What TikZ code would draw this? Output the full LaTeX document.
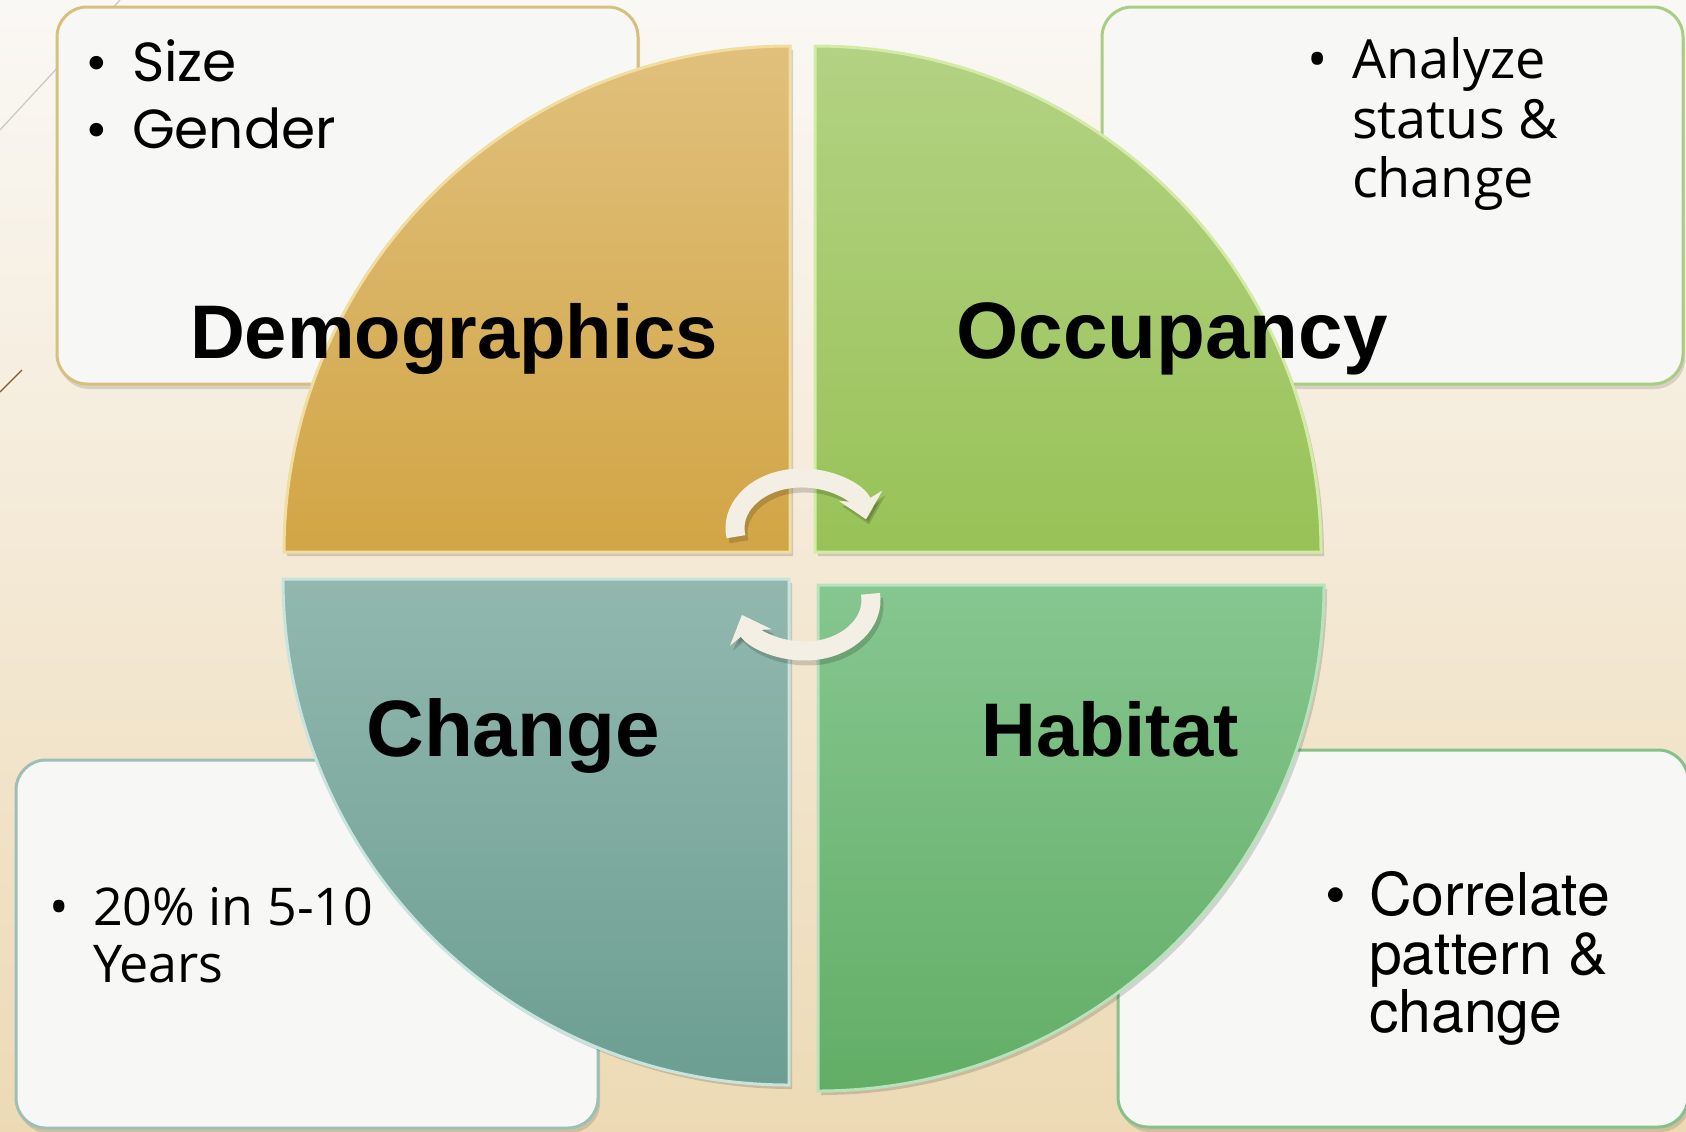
\documentclass[tikz,border=0pt]{standalone}
\usepackage{fontspec}
\setmainfont{Liberation Sans}
\newfontfamily\gothic{Poppins}
\newfontfamily\segoe{Open Sans}
\newfontfamily\helv{TeX Gyre Heros}
\usetikzlibrary{arrows.meta}
\definecolor{bgtop}{HTML}{FAF8F5}
\definecolor{bgbot}{HTML}{EDDAB5}
\definecolor{goldT}{HTML}{E0C07C}
\definecolor{goldB}{HTML}{D2A545}
\definecolor{goldE}{HTML}{F2DDA0}
\definecolor{occT}{HTML}{B3D283}
\definecolor{occB}{HTML}{98C257}
\definecolor{occE}{HTML}{D4EBA8}
\definecolor{chgT}{HTML}{92B8AE}
\definecolor{chgB}{HTML}{6C9E92}
\definecolor{chgE}{HTML}{C8E4DE}
\definecolor{habT}{HTML}{86C690}
\definecolor{habB}{HTML}{62AE66}
\definecolor{habE}{HTML}{B8E2BC}
\definecolor{boxfill}{HTML}{F7F7F6}
\definecolor{bdTL}{HTML}{D8BF7E}
\definecolor{bdTR}{HTML}{A9CD82}
\definecolor{bdBL}{HTML}{9CC0B6}
\definecolor{bdBR}{HTML}{86C08A}
\definecolor{cream}{HTML}{F4EFE4}
\tikzset{
  infobox/.style={fill=boxfill, line width=1.5pt, rounded corners=15pt},
  boxshadow/.style={fill=black, opacity=0.12, rounded corners=15pt},
  quadshadow/.style={fill=black, opacity=0.15},
  quad/.style={line width=1.5pt},
  title/.style={anchor=base, font=\bfseries\fontsize{38}{44}\selectfont},
  titlebig/.style={anchor=base, font=\bfseries\fontsize{40}{46}\selectfont},
  gtxt/.style={anchor=base west, font=\gothic\fontsize{27.5}{33}\selectfont},
  stxt/.style={anchor=base west, font=\segoe\fontsize{27}{32}\selectfont},
  stxtsm/.style={anchor=base west, font=\segoe\fontsize{26}{31}\selectfont},
  htxt/.style={anchor=base west, font=\helv\fontsize{29.5}{34}\selectfont},
  cyc/.style={line width=9.5pt, draw=cream, -{Stealth[length=12pt,width=22pt,inset=3.5pt]}},
  cycshadow/.style={line width=9.5pt, draw=black, opacity=0.16, -{Stealth[length=12pt,width=22pt,inset=3.5pt]}},
  deco/.style={line width=0.6pt}
}
\begin{document}
\begin{tikzpicture}[x=0.5pt,y=-0.5pt]
\useasboundingbox (0,0) rectangle (1686,1131);
\shade[top color=bgtop, bottom color=bgbot] (0,0) rectangle (1686,1131);

% decorative lines
\draw[deco, draw=black!22] (0,130) -- (120,0);
\draw[deco, draw=brown!70!black] (0,392) -- (22,370);

% boxes
\fill[boxshadow] (59,12) rectangle (640,389);
\draw[infobox, draw=bdTL] (57,7) rectangle (638,384);
\fill[boxshadow] (1104,12) rectangle (1685,389);
\draw[infobox, draw=bdTR] (1102,7) rectangle (1683,384);
\fill[boxshadow] (18,765) rectangle (600,1133);
\draw[infobox, draw=bdBL] (16,760) rectangle (598,1128);
\fill[boxshadow] (1120,755) rectangle (1690,1132);
\draw[infobox, draw=bdBR] (1118,750) rectangle (1688,1127);

% quadrant centres
\coordinate (cTL) at (790,552);
\coordinate (cTR) at (815,552);
\coordinate (cBL) at (789,579);
\coordinate (cBR) at (818,585);

% quadrant shadows
\fill[quadshadow] ([shift={(3,4)}]cTL) -- ++(-506,0) arc[start angle=180,end angle=270,radius=506] -- cycle;
\fill[quadshadow] ([shift={(3,4)}]cTR) -- ++(0,-506) arc[start angle=270,end angle=360,radius=506] -- cycle;
\fill[quadshadow] ([shift={(3,4)}]cBL) -- ++(0,506) arc[start angle=90,end angle=180,radius=506] -- cycle;
\fill[quadshadow] ([shift={(3,4)}]cBR) -- ++(506,0) arc[start angle=0,end angle=90,radius=506] -- cycle;

% quadrants
\path[quad, top color=goldT, bottom color=goldB, draw=goldE] (cTL) -- ++(-506,0) arc[start angle=180,end angle=270,radius=506] -- cycle;
\path[quad, top color=occT, bottom color=occB, draw=occE] (cTR) -- ++(0,-506) arc[start angle=270,end angle=360,radius=506] -- cycle;
\path[quad, top color=chgT, bottom color=chgB, draw=chgE] (cBL) -- ++(0,506) arc[start angle=90,end angle=180,radius=506] -- cycle;
\path[quad, top color=habT, bottom color=habB, draw=habE] (cBR) -- ++(506,0) arc[start angle=0,end angle=90,radius=506] -- cycle;

% titles
\node[title] (tDemo) at (454,358) {Demographics};
\node[titlebig] (tOcc) at (1172,358) {Occupancy};
\node[titlebig] (tChg) at (513,756) {Change};
\node[title] (tHab) at (1110,756) {Habitat};

% box texts
\node[gtxt] (b1) at (78,81) {•};
\node[gtxt] (l1) at (125,81) {Size};
\node[gtxt] (b2) at (78,148) {•};
\node[gtxt] (l2) at (125,148) {Gender};

\node[stxt] (b3) at (1300,78) {•};
\node[stxt] (l3) at (1345,78) {Analyze};
\node[stxt] (l4) at (1345,138) {status \&};
\node[stxt] (l5) at (1345,197) {change};

\node[stxtsm] (b4) at (42,925) {•};
\node[stxtsm] (l6) at (86,925) {20\% in 5-10};
\node[stxtsm] (l7) at (86,982) {Years};

\node[htxt] (b5) at (1318,915) {•};
\node[htxt] (l8) at (1362,915) {Correlate};
\node[htxt] (l9) at (1362,974) {pattern \&};
\node[htxt] (l10) at (1362,1032) {change};

% cycle arrows
\coordinate (aTop) at (801,528);
\coordinate (aBot) at (805,600);
\draw[cycshadow] ([shift={(3,5)}]aTop) ++(170:66 and 50) arc[start angle=170,end angle=350,x radius=66,y radius=50];
\draw[cyc] (aTop) ++(170:66 and 50) arc[start angle=170,end angle=350,x radius=66,y radius=50];
\draw[cycshadow] ([shift={(3,5)}]aBot) ++(-7:66 and 51) arc[start angle=-7,end angle=163,x radius=66,y radius=51];
\draw[cyc] (aBot) ++(-7:66 and 51) arc[start angle=-7,end angle=163,x radius=66,y radius=51];
\end{tikzpicture}
\end{document}
